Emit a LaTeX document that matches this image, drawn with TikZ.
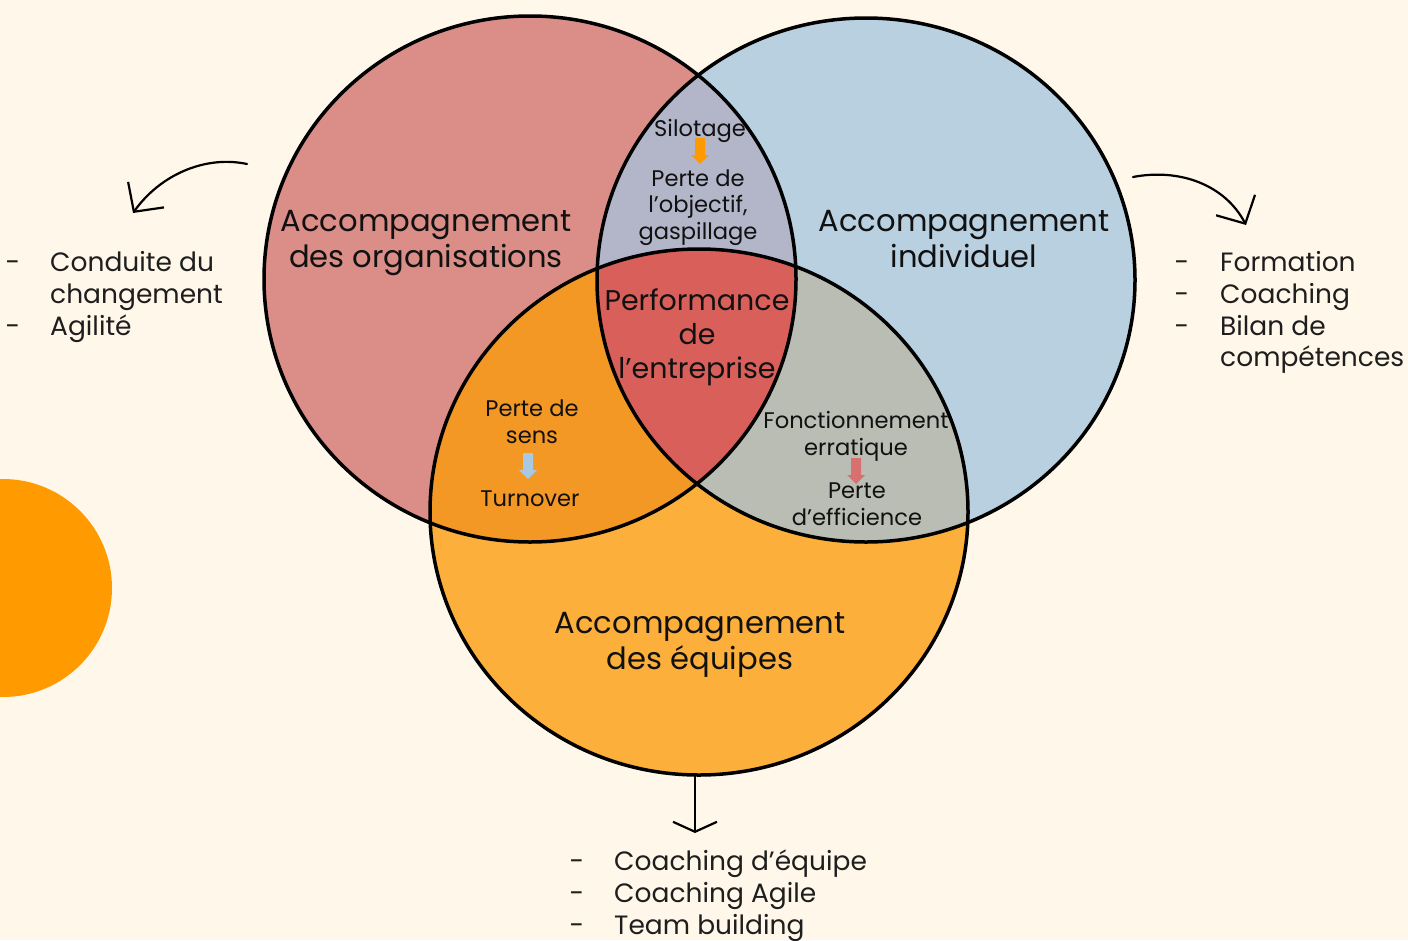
\documentclass[tikz,border=0pt]{standalone}
\usepackage{fontspec}
\setmainfont{Poppins}
\usetikzlibrary{arrows.meta}
\definecolor{bg}{HTML}{FFF7E9}
\definecolor{cred}{HTML}{DB8E88}
\definecolor{cblue}{HTML}{B9D0E0}
\definecolor{corange}{HTML}{FDAF3B}
\definecolor{crb}{HTML}{B3B5C9}
\definecolor{cro}{HTML}{F39824}
\definecolor{cbo}{HTML}{BABDB3}
\definecolor{ccenter}{HTML}{D95F5B}
\definecolor{blob}{HTML}{FF9A00}
\definecolor{ink}{HTML}{111111}
\definecolor{listink}{HTML}{1E1E1E}
\definecolor{arrorange}{HTML}{FF9900}
\definecolor{arrblue}{HTML}{A9C9E3}
\definecolor{arrred}{HTML}{D97070}
\begin{document}
\begin{tikzpicture}[x=1pt,y=-1pt,
  ring/.style={draw=black,line width=3.5pt},
  biglabel/.style={inner sep=0pt,align=center,anchor=base,text=ink,font=\fontsize{30.6}{36}\selectfont},
  midlabel/.style={inner sep=0pt,align=center,anchor=base,text=ink,font=\fontsize{28.5}{34}\selectfont},
  smalllabel/.style={inner sep=0pt,align=center,anchor=base,text=ink,font=\fontsize{22.6}{26.5}\selectfont},
  listtxt/.style={inner sep=0pt,anchor=base west,text=listink,font=\fontsize{26.5}{32}\selectfont},
  listdash/.style={inner sep=0pt,anchor=base,text=listink,font=\fontsize{26.5}{32}\selectfont},
  pointer/.style={draw=black,line width=2.2pt,line cap=round,line join=round}
]
\useasboundingbox (0,0) rectangle (1408,940);
\fill[bg] (0,0) rectangle (1408,940);
% decorative blob
\fill[blob] (3,588) circle [radius=109pt];

% circle fills
\fill[cred] (530,279) ellipse [x radius=266pt, y radius=263pt];
\fill[cblue] (866,280) ellipse [x radius=269pt, y radius=262pt];
\fill[corange] (699,512) ellipse [x radius=269pt, y radius=263pt];
\begin{scope}
  \clip (530,279) ellipse [x radius=266pt, y radius=263pt];
  \fill[crb] (866,280) ellipse [x radius=269pt, y radius=262pt];
  \fill[cro] (699,512) ellipse [x radius=269pt, y radius=263pt];
\end{scope}
\begin{scope}
  \clip (866,280) ellipse [x radius=269pt, y radius=262pt];
  \fill[cbo] (699,512) ellipse [x radius=269pt, y radius=263pt];
\end{scope}
\begin{scope}
  \clip (530,279) ellipse [x radius=266pt, y radius=263pt];
  \clip (866,280) ellipse [x radius=269pt, y radius=262pt];
  \fill[ccenter] (699,512) ellipse [x radius=269pt, y radius=263pt];
\end{scope}
% outlines
\draw[ring] (530,279) ellipse [x radius=266pt, y radius=263pt];
\draw[ring] (866,280) ellipse [x radius=269pt, y radius=262pt];
\draw[ring] (699,512) ellipse [x radius=269pt, y radius=263pt];

% main labels (anchor = baseline of last line)
\node[biglabel] (org) at (426,267) {Accompagnement\\des organisations};
\node[biglabel] (ind) at (964,267) {Accompagnement\\individuel};
\node[biglabel] (eq) at (700,669) {Accompagnement\\des équipes};
\node[midlabel] (perf) at (697,378) {Performance\\de\\l’entreprise};

% intersection labels
\node[smalllabel] (silo) at (700,136) {Silotage};
\node[smalllabel] (perteobj) at (698,239) {Perte de\\l’objectif,\\gaspillage};
\node[smalllabel] (sens) at (532,443) {Perte de\\sens};
\node[smalllabel] (turn) at (530,506) {Turnover};
\node[smalllabel] (fonc) at (856,455) {Fonctionnement\\erratique};
\node[smalllabel] (eff) at (857,525) {Perte\\d’efficience};

% small block arrows
\fill[arrorange] (695,138) -- (705,138) -- (705,155) -- (709,155) -- (700,164) -- (691,155) -- (695,155) -- cycle;
\fill[arrblue] (523,453) -- (533,453) -- (533,470) -- (537,470) -- (528,479) -- (519,470) -- (523,470) -- cycle;
\fill[arrred] (851,458) -- (861,458) -- (861,475) -- (865,475) -- (856,484) -- (847,475) -- (851,475) -- cycle;

% lists
\node[listdash] (ld1) at (13,271) {-};
\node[listdash] (ld2) at (13,335) {-};
\node[listtxt] (l1) at (50,271) {Conduite du};
\node[listtxt] (l2) at (50,303) {changement};
\node[listtxt] (l3) at (50,335) {Agilité};

\node[listdash] (rd1) at (1182,271) {-};
\node[listdash] (rd2) at (1182,303) {-};
\node[listdash] (rd3) at (1182,335) {-};
\node[listtxt] (r1) at (1220,271) {Formation};
\node[listtxt] (r2) at (1220,303) {Coaching};
\node[listtxt] (r3) at (1220,335) {Bilan de};
\node[listtxt] (r4) at (1220,366) {compétences};

\node[listdash] (bd1) at (577,870) {-};
\node[listdash] (bd2) at (577,902) {-};
\node[listdash] (bd3) at (577,934) {-};
\node[listtxt] (b1) at (614,870) {Coaching d’équipe};
\node[listtxt] (b2) at (614,902) {Coaching Agile};
\node[listtxt] (b3) at (614,934) {Team building};

% pointers
\coordinate (ls) at (247,164);
\coordinate (le) at (133,213);
\coordinate (rs) at (1133,177);
\coordinate (re) at (1246,225);
\coordinate (bs) at (695,775);
\coordinate (be) at (695,833);
\draw[pointer,-{Straight Barb[length=21pt,width=44pt,line width=2.2pt]}] (ls) .. controls (205,155) and (160,175) .. (le);
\draw[pointer,-{Straight Barb[length=21pt,width=44pt,line width=2.2pt]}] (rs) .. controls (1180,168) and (1225,185) .. (re);
\draw[pointer,-{Straight Barb[length=10pt,width=44pt,line width=2.2pt]}] (bs) -- (be);
\end{tikzpicture}
\end{document}
